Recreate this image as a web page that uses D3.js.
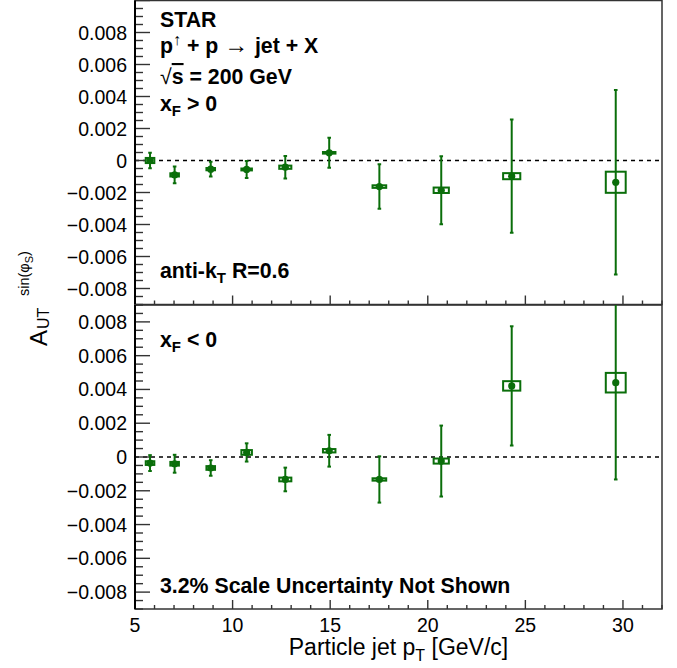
<!DOCTYPE html>
<html><head><meta charset="utf-8">
<script src="https://cdn.jsdelivr.net/npm/d3@7"></script>
<style>
body{margin:0;background:#fff}
svg{display:block}
text{font-family:"Liberation Sans",Arial,Helvetica,sans-serif;fill:#000}
</style>
</head><body>
<svg id="c" width="677" height="668"></svg>
<script>
// ---- data ----
const pT      = [5.77, 7.03, 8.88, 10.72, 12.70, 14.95, 17.52, 20.69, 24.30, 29.63];
const pTSys   = [0.22, 0.22, 0.22, 0.27, 0.31, 0.32, 0.35, 0.39, 0.44, 0.51];
const aFwd     = [0.00000, -0.00090, -0.00054, -0.00056, -0.00042, 0.00048, -0.00163, -0.00186, -0.00098, -0.00136];
const aFwdStat = [0.00048, 0.00052, 0.00046, 0.00053, 0.00070, 0.00094, 0.00139, 0.00212, 0.00354, 0.00576];
const aFwdSys  = [0.00016, 0.00010, 0.00007, 0.00006, 0.00010, 0.00005, 0.00008, 0.00017, 0.00019, 0.00066];
const aBwd     = [-0.00036, -0.00040, -0.00065, 0.00027, -0.00133, 0.00037, -0.00133, -0.00024, 0.00421, 0.00440];
const aBwdStat = [0.00047, 0.00053, 0.00046, 0.00054, 0.00070, 0.00094, 0.00137, 0.00210, 0.00353, 0.00573];
const aBwdSys  = [0.00011, 0.00011, 0.00011, 0.00014, 0.00011, 0.00010, 0.00007, 0.00015, 0.00028, 0.00058];
const xTicks = [5, 10, 15, 20, 25, 30];
const yTicks = [-0.008, -0.006, -0.004, -0.002, 0, 0.002, 0.004, 0.006, 0.008];
const yTickLabels = ["\u22120.008", "\u22120.006", "\u22120.004", "\u22120.002", "0", "0.002", "0.004", "0.006", "0.008"];

const GREEN = "#0a6e0a";
const svg = d3.select("#c");
const L = 135, R = 662;
const x = d3.scaleLinear().domain([5, 32]).range([L, R]);

const panels = [
  {y: d3.scaleLinear().domain([-0.009, 0.01]).range([304.5, 0.5]), a: aFwd, st: aFwdStat, sy: aFwdSys, id: "top"},
  {y: d3.scaleLinear().domain([-0.009, 0.009]).range([609, 305]), a: aBwd, st: aBwdStat, sy: aBwdSys, id: "bot"}
];

const defs = svg.append("defs");

panels.forEach(p => {
  const y = p.y;
  const y0 = y.range()[0], y1 = y.range()[1];
  defs.append("clipPath").attr("id", "clip-" + p.id)
    .append("rect").attr("x", L).attr("y", y1).attr("width", R - L).attr("height", y0 - y1);

  // frame
  svg.append("rect").attr("x", L).attr("y", y1).attr("width", R - L).attr("height", y0 - y1)
    .attr("fill", "none").attr("stroke", "#333").attr("stroke-width", 1.5);

  // zero line
  svg.append("line").attr("x1", L).attr("x2", R).attr("y1", y(0)).attr("y2", y(0))
    .attr("stroke", "#000").attr("stroke-width", 1.3).attr("stroke-dasharray", "4,4");

  // y ticks
  const yMinor = d3.range(-0.009, p.y.domain()[1] + 1e-9, 0.0005).map(v => Math.round(v * 1e5) / 1e5);
  svg.append("g").selectAll("line").data(yMinor).join("line")
    .attr("x1", L).attr("x2", d => L + (Math.abs(Math.round(d * 1e4) % 20) === 0 ? 15 : 8))
    .attr("y1", d => y(d)).attr("y2", d => y(d))
    .attr("stroke", "#333").attr("stroke-width", 1.4);
  svg.append("g").selectAll("text").data(yTicks).join("text")
    .attr("x", 127).attr("y", d => y(d)).attr("dy", "0.36em")
    .attr("text-anchor", "end").attr("font-size", 19.5)
    .text((d, i) => yTickLabels[i]);

  // x ticks (bottom edge, pointing up)
  const xMinor = d3.range(5, 33, 1);
  svg.append("g").selectAll("line").data(xMinor).join("line")
    .attr("x1", d => x(d)).attr("x2", d => x(d))
    .attr("y1", y0).attr("y2", d => y0 - (d % 5 === 0 ? 9 : 4))
    .attr("stroke", "#333").attr("stroke-width", 1.4);

  // left axis line
  svg.append("line").attr("x1", L).attr("x2", L).attr("y1", y1).attr("y2", y0)
    .attr("stroke", "#000").attr("stroke-width", 2);

  // data
  const g = svg.append("g").attr("clip-path", "url(#clip-" + p.id + ")");
  const idx = d3.range(pT.length);
  g.selectAll("rect.sys").data(idx).join("rect").attr("class", "sys")
    .attr("x", i => x(pT[i] - pTSys[i])).attr("width", i => x(pT[i] + pTSys[i]) - x(pT[i] - pTSys[i]))
    .attr("y", i => y(p.a[i] + p.sy[i])).attr("height", i => y(p.a[i] - p.sy[i]) - y(p.a[i] + p.sy[i]))
    .attr("fill", "#fff").attr("stroke", GREEN).attr("stroke-width", 2);
  g.selectAll("line.stat").data(idx).join("line").attr("class", "stat")
    .attr("x1", i => x(pT[i])).attr("x2", i => x(pT[i]))
    .attr("y1", i => y(p.a[i] - p.st[i])).attr("y2", i => y(p.a[i] + p.st[i]))
    .attr("stroke", GREEN).attr("stroke-width", 2);
  [-1, 1].forEach(s => {
    g.selectAll("line.cap" + (s > 0 ? "u" : "d")).data(idx).join("line").attr("class", "cap" + (s > 0 ? "u" : "d"))
      .attr("x1", i => x(pT[i]) - 1.8).attr("x2", i => x(pT[i]) + 1.8)
      .attr("y1", i => y(p.a[i] + s * p.st[i])).attr("y2", i => y(p.a[i] + s * p.st[i]))
      .attr("stroke", GREEN).attr("stroke-width", 2);
  });
  g.selectAll("circle").data(idx).join("circle")
    .attr("cx", i => x(pT[i])).attr("cy", i => y(p.a[i])).attr("r", 3.6)
    .attr("fill", GREEN);
});

// x tick labels
svg.append("g").selectAll("text").data(xTicks).join("text")
  .attr("x", d => x(d)).attr("y", 632).attr("text-anchor", "middle").attr("font-size", 19.5)
  .text(d => d);

// x axis title
const xt = svg.append("text").attr("x", (L + R) / 2).attr("y", 655).attr("text-anchor", "middle").attr("font-size", 23);
xt.append("tspan").text("Particle jet p");
xt.append("tspan").attr("font-size", 16).attr("dy", 6).text("T");
xt.append("tspan").attr("dy", -6).text(" [GeV/c]");

// y axis title
const yt = svg.append("g").attr("transform", "translate(47,346) rotate(-90)");
yt.append("text").attr("x", 0).attr("y", 0).attr("font-size", 24).text("A");
yt.append("text").attr("x", 17).attr("y", 2).attr("font-size", 16).text("UT");
const sup = yt.append("text").attr("x", 50).attr("y", -18).attr("font-size", 14.5);
sup.append("tspan").text("sin(\u03c6");
sup.append("tspan").attr("font-size", 11).attr("dy", 4).text("S");
sup.append("tspan").attr("dy", -4).text(")");

// annotations
function bold(xp, yp) {
  return svg.append("text").attr("x", xp).attr("y", yp).attr("font-size", 21.3).attr("font-weight", "bold");
}
bold(160, 27).text("STAR");
const l2 = bold(160, 53);
l2.append("tspan").text("p");
l2.append("tspan").attr("font-weight", "normal").attr("font-size", 16).attr("dy", -8).text("\u2191");
l2.append("tspan").attr("dy", 8).text(" + p ");
l2.append("tspan").attr("font-weight", "normal").attr("font-size", 24).text(" \u2192 ");
l2.append("tspan").text("jet + X");
const l3 = bold(160, 84);
l3.append("tspan").attr("font-weight", "normal").text("\u221a");
l3.append("tspan").attr("text-decoration", "overline").text("s");
l3.append("tspan").text(" = 200 GeV");
const l4 = bold(160, 111);
l4.append("tspan").text("x");
l4.append("tspan").attr("font-size", 15).attr("dy", 5).text("F");
l4.append("tspan").attr("dy", -5).text(" > 0");
const l5 = bold(160, 278);
l5.append("tspan").text("anti-k");
l5.append("tspan").attr("font-size", 15).attr("dy", 5).text("T");
l5.append("tspan").attr("dy", -5).text(" R=0.6");
const l6 = bold(160, 347);
l6.append("tspan").text("x");
l6.append("tspan").attr("font-size", 15).attr("dy", 5).text("F");
l6.append("tspan").attr("dy", -5).text(" < 0");
bold(160, 593).text("3.2% Scale Uncertainty Not Shown");
</script>
</body></html>
